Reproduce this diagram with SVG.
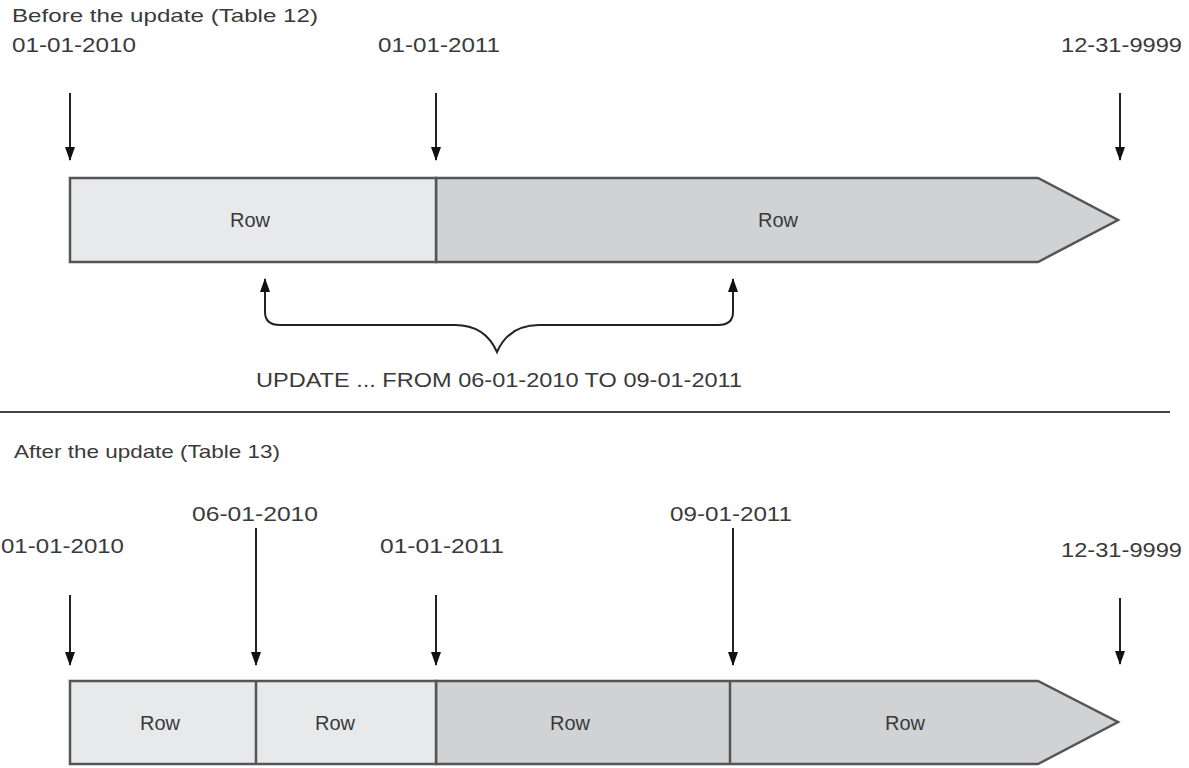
<svg xmlns="http://www.w3.org/2000/svg" width="1189" height="768" viewBox="0 0 1189 768">
<style>
text{font-family:"Liberation Sans",Arial,sans-serif;fill:#3a3a3a;}
.t{font-size:19px;}
.d{font-size:21px;}
.r{font-size:20px;text-anchor:middle;}
.seg{stroke:#555;stroke-width:2.5;}
.light{fill:#e8e9eb;}
.dark{fill:#d0d2d4;}
.conn{stroke:#222;stroke-width:2;fill:none;}
</style>
<defs>
<marker id="ah" viewBox="0 0 14 10" refX="13" refY="5" markerWidth="7" markerHeight="5" markerUnits="strokeWidth" orient="auto-start-reverse">
<path d="M0,0 L14,5 L0,10 z" fill="#111"/>
</marker>
</defs>
<rect width="1189" height="768" fill="#fff"/>

<g id="before-title"><text class="t" x="12" y="22" textLength="306" lengthAdjust="spacingAndGlyphs">Before the update (Table 12)</text></g>

<g id="before-labels">
<text class="d" x="12" y="52" textLength="124" lengthAdjust="spacingAndGlyphs">01-01-2010</text>
<text class="d" x="378" y="52" textLength="122" lengthAdjust="spacingAndGlyphs">01-01-2011</text>
<text class="d" x="1061" y="52" textLength="121" lengthAdjust="spacingAndGlyphs">12-31-9999</text>
</g>

<g id="before-bar">
<polygon class="dark seg" points="436,178 1038,178 1118,220 1038,262 436,262"/>
<rect class="light seg" x="70" y="178" width="366" height="84"/>
<text class="r" x="250" y="227">Row</text>
<text class="r" x="778" y="227">Row</text>
</g>

<g id="update-label"><text class="d" x="256" y="387" textLength="486" lengthAdjust="spacingAndGlyphs">UPDATE ... FROM 06-01-2010 TO 09-01-2011</text></g>

<g id="separator"><line x1="0" y1="412" x2="1170" y2="412" stroke="#444" stroke-width="2"/></g>

<g id="after-title"><text class="t" x="14" y="458" textLength="266" lengthAdjust="spacingAndGlyphs">After the update (Table 13)</text></g>

<g id="after-labels">
<text class="d" x="192" y="521" textLength="126" lengthAdjust="spacingAndGlyphs">06-01-2010</text>
<text class="d" x="670" y="521" textLength="122" lengthAdjust="spacingAndGlyphs">09-01-2011</text>
<text class="d" x="1" y="553" textLength="123" lengthAdjust="spacingAndGlyphs">01-01-2010</text>
<text class="d" x="380" y="553" textLength="124" lengthAdjust="spacingAndGlyphs">01-01-2011</text>
<text class="d" x="1061" y="557" textLength="121" lengthAdjust="spacingAndGlyphs">12-31-9999</text>
</g>

<g id="after-bar">
<polygon class="dark seg" points="436,681 1038,681 1118,722 1038,764 436,764"/>
<rect class="light seg" x="70" y="681" width="366" height="83"/>
<line class="seg" x1="256" y1="681" x2="256" y2="764"/>
<line class="seg" x1="730" y1="681" x2="730" y2="764"/>
<text class="r" x="160" y="730">Row</text>
<text class="r" x="335" y="730">Row</text>
<text class="r" x="570" y="730">Row</text>
<text class="r" x="905" y="730">Row</text>
</g>

<g id="connectors">
<line class="conn" x1="70" y1="93" x2="70" y2="160" marker-end="url(#ah)"/>
<line class="conn" x1="436" y1="93" x2="436" y2="160" marker-end="url(#ah)"/>
<line class="conn" x1="1120" y1="93" x2="1120" y2="160" marker-end="url(#ah)"/>
<path class="conn" d="M265,279 L265,312 Q265,325 280,325 L455,325 Q485,325 497,352 Q509,325 539,325 L718,325 Q733,325 733,312 L733,279" marker-start="url(#ah)" marker-end="url(#ah)"/>
<line class="conn" x1="70" y1="595" x2="70" y2="665" marker-end="url(#ah)"/>
<line class="conn" x1="256" y1="528" x2="256" y2="665" marker-end="url(#ah)"/>
<line class="conn" x1="436" y1="595" x2="436" y2="665" marker-end="url(#ah)"/>
<line class="conn" x1="733" y1="528" x2="733" y2="665" marker-end="url(#ah)"/>
<line class="conn" x1="1120" y1="598" x2="1120" y2="664" marker-end="url(#ah)"/>
</g>
</svg>
